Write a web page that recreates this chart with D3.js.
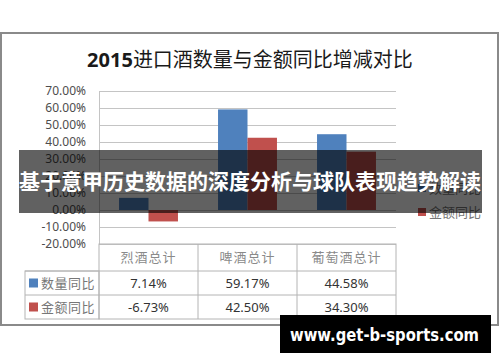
<!DOCTYPE html>
<html lang="zh">
<head>
<meta charset="UTF-8">
<title>2015进口酒数量与金额同比增减对比</title>
<script src="https://d3js.org/d3.v7.min.js"></script>
<style>
  body { margin: 0; background: #fff; }
  svg { display: block; font-family: "Noto Sans", "Noto Sans CJK SC", sans-serif; }
</style>
</head>
<body>
<svg width="500" height="362"></svg>
<script>
// chart data
const categories = ["烈酒总计", "啤酒总计", "葡萄酒总计"];
const seriesNames = ["数量同比", "金额同比"];
const qtyYoY = [7.14, 59.17, 44.58];
const amtYoY = [-6.73, 42.50, 34.30];
const yTicks = [-20, -10, 0, 10, 20, 30, 40, 50, 60, 70];
const bannerText = "基于意甲历史数据的深度分析与球队表现趋势解读";
const siteText = "www.get-b-sports.com";

const colors = ["#4F81BD", "#C0504D"];
const values = [qtyYoY, amtYoY];
const cjk = "'Noto Sans CJK SC', sans-serif";
// plain hyphen for negatives, like the original
const pct = d => d3.formatLocale({decimal: ".", thousands: ",", grouping: [3], currency: ["", ""], minus: "-"})
    .format(".2f")(d) + "%";

const svg = d3.select("svg");

// outer frame
svg.append("rect")
    .attr("x", 1).attr("y", 33).attr("width", 497).attr("height", 292)
    .attr("fill", "#fff").attr("stroke", "#8a8a8a").attr("stroke-width", 2);

// title
const title = svg.append("text")
    .attr("x", 250).attr("y", 67)
    .attr("text-anchor", "middle")
    .attr("fill", "#1a1a1a")
    .style("font-size", "20px");
title.append("tspan").attr("font-weight", "bold").text("2015");
title.append("tspan").style("font-family", cjk).text("进口酒数量与金额同比增减对比");

// scales
const x = d3.scaleBand().domain(categories).range([99, 396]);
const xs = d3.scaleBand().domain(seriesNames).range([0, x.bandwidth()]).paddingOuter(0.68);
const y = d3.scaleLinear().domain([-20, 70]).range([244, 91]);

// grid + y labels
const yAxis = svg.append("g")
    .attr("transform", "translate(99,0)")
    .call(d3.axisLeft(y).tickValues(yTicks).tickSize(0).tickPadding(13).tickFormat(pct));
yAxis.select(".domain").attr("stroke", "#c4c4c4");
yAxis.selectAll(".tick text")
    .attr("fill", "#4d4d4d")
    .style("font-size", "12px")
    .style("font-family", "'Noto Sans', sans-serif");
yAxis.selectAll(".tick line")
    .attr("x2", 297)
    .attr("stroke", "#c4c4c4");

// bars
seriesNames.forEach((s, i) => {
    svg.append("g").selectAll("rect")
        .data(values[i])
        .join("rect")
        .attr("x", (d, j) => x(categories[j]) + xs(s))
        .attr("width", xs.bandwidth())
        .attr("y", d => y(Math.max(0, d)))
        .attr("height", d => Math.abs(y(d) - y(0)))
        .attr("fill", colors[i]);
});

// legend
const legend = svg.append("g");
seriesNames.forEach((s, i) => {
    const ly = 188 + i * 24;
    legend.append("rect")
        .attr("x", 418).attr("y", ly - 4).attr("width", 8).attr("height", 8)
        .attr("fill", colors[i]);
    legend.append("text")
        .attr("x", 429).attr("y", ly)
        .attr("dy", "0.35em")
        .attr("fill", "#777")
        .style("font-family", cjk)
        .style("font-size", "13px")
        .text(s);
});

// data table
const table = svg.append("g").attr("stroke", "#b4b4b4").attr("fill", "none");
const rowY = [244, 271, 295, 319];
table.append("rect").attr("x", 99).attr("y", rowY[0]).attr("width", 297).attr("height", rowY[3] - rowY[0]);
table.append("rect").attr("x", 25).attr("y", rowY[1]).attr("width", 74).attr("height", rowY[3] - rowY[1]);
table.append("line").attr("x1", 25).attr("x2", 396).attr("y1", rowY[1]).attr("y2", rowY[1]);
table.append("line").attr("x1", 25).attr("x2", 396).attr("y1", rowY[2]).attr("y2", rowY[2]);
categories.slice(1).forEach(c => {
    table.append("line").attr("x1", x(c)).attr("x2", x(c)).attr("y1", rowY[0]).attr("y2", rowY[3]);
});

svg.append("g").selectAll("text")
    .data(categories)
    .join("text")
    .attr("x", d => x(d) + x.bandwidth() / 2)
    .attr("y", (rowY[0] + rowY[1]) / 2)
    .attr("dy", "0.35em")
    .attr("text-anchor", "middle")
    .attr("fill", "#8a8a8a")
    .style("font-family", cjk)
    .style("font-size", "13px")
    .style("letter-spacing", "1px")
    .text(d => d);

seriesNames.forEach((s, i) => {
    const cy = (rowY[i + 1] + rowY[i + 2]) / 2;
    svg.append("rect")
        .attr("x", 29).attr("y", cy - 4.5).attr("width", 9).attr("height", 9)
        .attr("fill", colors[i]);
    svg.append("text")
        .attr("x", 41).attr("y", cy)
        .attr("dy", "0.35em")
        .attr("fill", "#777")
        .style("font-family", cjk)
        .style("font-size", "13px")
        .style("letter-spacing", "0.5px")
        .text(s);
    svg.append("g").selectAll("text")
        .data(values[i])
        .join("text")
        .attr("x", (d, j) => x(categories[j]) + x.bandwidth() / 2)
        .attr("y", cy)
        .attr("dy", "0.35em")
        .attr("text-anchor", "middle")
        .attr("fill", "#333")
        .style("font-size", "13px")
        .text(pct);
});

// banner overlay
svg.append("clipPath").attr("id", "bannerClip")
    .append("rect").attr("x", 19).attr("y", 150).attr("width", 463).attr("height", 63);
svg.append("rect")
    .attr("x", 19).attr("y", 150).attr("width", 463).attr("height", 63)
    .attr("fill", "#000").attr("fill-opacity", 0.62);
svg.append("text")
    .attr("clip-path", "url(#bannerClip)")
    .attr("x", 19).attr("y", 189)
    .attr("fill", "#fff")
    .attr("font-weight", "bold")
    .style("font-family", cjk)
    .style("font-size", "21px")
    .text(bannerText);

// site badge
svg.append("rect")
    .attr("x", 280).attr("y", 315).attr("width", 211).attr("height", 38)
    .attr("fill", "#000");
svg.append("text")
    .attr("x", 290).attr("y", 341)
    .attr("fill", "#fff")
    .attr("font-weight", "bold")
    .attr("textLength", 189)
    .attr("lengthAdjust", "spacingAndGlyphs")
    .style("font-family", "'DejaVu Sans', sans-serif")
    .style("font-size", "17px")
    .text(siteText);
</script>
</body>
</html>
